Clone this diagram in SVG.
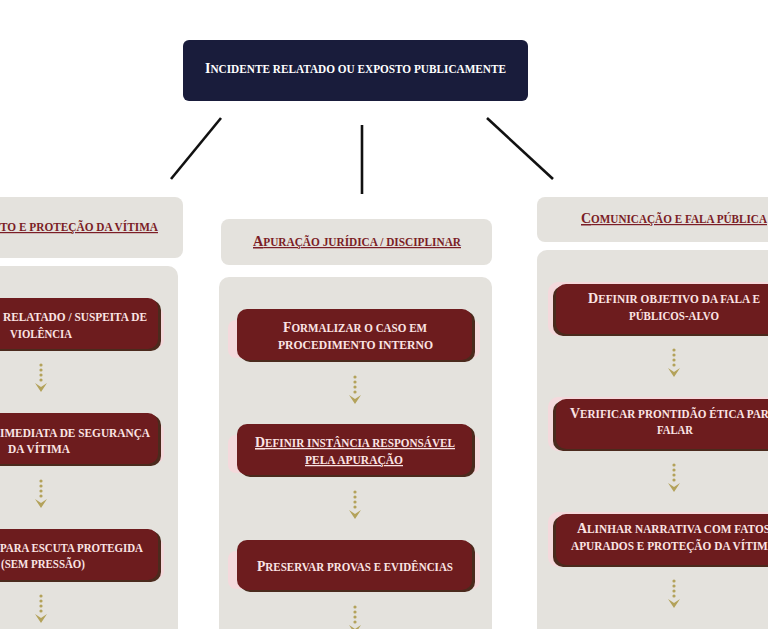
<svg xmlns="http://www.w3.org/2000/svg" width="768" height="629" viewBox="0 0 768 629">
<defs>
<style>
.t{font-family:"Liberation Serif","DejaVu Serif",serif;font-weight:bold;text-transform:uppercase;font-size:12.5px;}
.c{font-size:15.5px;}
.top{fill:#ffffff;}
.hd{fill:#7b1d26;text-decoration:underline;font-size:12px;}
.hd .c{font-size:15px;}
.bx{fill:#fbe4e4;}
.ul{text-decoration:underline;}
.col{fill:#e4e2dd;}
.glow{fill:#f4d9dc;}
.edge{fill:#4b2a1d;}
.box{fill:#6d1c1e;}
.dot{fill:none;stroke:#b3a25a;stroke-width:3.2;stroke-linecap:round;stroke-dasharray:0 5;}
.ln{stroke:#111111;stroke-width:2.6;fill:none;}
</style>
<marker id="chev" viewBox="0 0 9 12" refX="0" refY="6" markerWidth="9" markerHeight="12" markerUnits="userSpaceOnUse" orient="auto">
<path d="M0,0 L4,6 L0,12 L9,6 Z" fill="#b3a25a"/>
</marker>
</defs>
<rect width="768" height="629" fill="#ffffff"/>

<g id="top-node">
<rect x="183" y="40" width="345" height="61" rx="6" fill="#191c3b"/>
<text class="t top" x="355.5" y="73" text-anchor="middle" textLength="301" lengthAdjust="spacingAndGlyphs"><tspan class="c">I</tspan>ncidente relatado ou exposto publicamente</text>
</g>

<g id="col-left">
<rect class="col" x="-20" y="197" width="203" height="61" rx="8"/>
<text class="t hd" x="158" y="231" text-anchor="end" textLength="158" lengthAdjust="spacingAndGlyphs">to e proteção da vítima</text>
<rect class="col" x="-20" y="266" width="198" height="380" rx="10"/>
</g>
<g id="left-1">
<rect class="glow" x="-60" y="308" width="224" height="40" rx="8"/>
<rect class="edge" x="-74" y="300" width="235" height="51" rx="10"/>
<rect class="box" x="-77" y="298" width="235" height="51" rx="10"/>
<text class="t bx" x="147" y="321" text-anchor="end" textLength="144" lengthAdjust="spacingAndGlyphs">relatado / suspeita de</text>
<text class="t bx" x="41" y="338" text-anchor="middle" textLength="62" lengthAdjust="spacingAndGlyphs">violência</text>
</g>
<g id="left-2">
<rect class="glow" x="-60" y="423" width="224" height="40" rx="8"/>
<rect class="edge" x="-74" y="415" width="235" height="51" rx="10"/>
<rect class="box" x="-77" y="413" width="235" height="51" rx="10"/>
<text class="t bx" x="150" y="437" text-anchor="end" textLength="150" lengthAdjust="spacingAndGlyphs">imediata de segurança</text>
<text class="t bx" x="39" y="453" text-anchor="middle" textLength="62" lengthAdjust="spacingAndGlyphs">da vítima</text>
</g>
<g id="left-3">
<rect class="glow" x="-60" y="539" width="224" height="40" rx="8"/>
<rect class="edge" x="-74" y="531" width="235" height="51" rx="10"/>
<rect class="box" x="-77" y="529" width="235" height="51" rx="10"/>
<text class="t bx" x="143" y="552" text-anchor="end" textLength="143" lengthAdjust="spacingAndGlyphs">para escuta protegida</text>
<text class="t bx" x="43" y="568" text-anchor="middle" textLength="84" lengthAdjust="spacingAndGlyphs">(sem pressão)</text>
</g>

<g id="col-center">
<rect class="col" x="221" y="219" width="271" height="46" rx="8"/>
<text class="t hd" x="357" y="246" text-anchor="middle" textLength="208" lengthAdjust="spacingAndGlyphs"><tspan class="c">A</tspan>puração jurídica / disciplinar</text>
<rect class="col" x="219" y="277" width="273" height="370" rx="10"/>
</g>
<g id="center-1">
<rect class="glow" x="228" y="320" width="252" height="38" rx="8"/>
<rect class="edge" x="240" y="311" width="235" height="51" rx="10"/>
<rect class="box" x="237" y="309" width="235" height="51" rx="10"/>
<text class="t bx" x="355" y="332" text-anchor="middle" textLength="144" lengthAdjust="spacingAndGlyphs"><tspan class="c">F</tspan>ormalizar o caso em</text>
<text class="t bx" x="355.5" y="349" text-anchor="middle" textLength="155" lengthAdjust="spacingAndGlyphs">procedimento interno</text>
</g>
<g id="center-2">
<rect class="glow" x="228" y="435" width="252" height="38" rx="8"/>
<rect class="edge" x="240" y="426" width="235" height="51" rx="10"/>
<rect class="box" x="237" y="424" width="235" height="51" rx="10"/>
<text class="t bx ul" x="355" y="447" text-anchor="middle" textLength="200" lengthAdjust="spacingAndGlyphs"><tspan class="c">D</tspan>efinir instância responsável</text>
<text class="t bx ul" x="354" y="464" text-anchor="middle" textLength="98" lengthAdjust="spacingAndGlyphs">pela apuração</text>
</g>
<g id="center-3">
<rect class="glow" x="228" y="551" width="252" height="38" rx="8"/>
<rect class="edge" x="240" y="542" width="235" height="50" rx="10"/>
<rect class="box" x="237" y="540" width="235" height="50" rx="10"/>
<text class="t bx" x="355" y="571" text-anchor="middle" textLength="196" lengthAdjust="spacingAndGlyphs"><tspan class="c">P</tspan>reservar provas e evidências</text>
</g>

<g id="col-right">
<rect class="col" x="537" y="197" width="250" height="45" rx="8"/>
<text class="t hd" x="674" y="223" text-anchor="middle" textLength="186" lengthAdjust="spacingAndGlyphs"><tspan class="c">C</tspan>omunicação e fala pública</text>
<rect class="col" x="537" y="250" width="250" height="400" rx="10"/>
</g>
<g id="right-1">
<rect class="glow" x="548" y="282" width="240" height="54" rx="10"/>
<rect class="edge" x="553" y="286" width="235" height="50" rx="10"/>
<rect class="box" x="556" y="284" width="235" height="50" rx="10"/>
<text class="t bx" x="674" y="303" text-anchor="middle" textLength="172" lengthAdjust="spacingAndGlyphs"><tspan class="c">D</tspan>efinir objetivo da fala e</text>
<text class="t bx" x="674" y="320" text-anchor="middle" textLength="90" lengthAdjust="spacingAndGlyphs">públicos-alvo</text>
</g>
<g id="right-2">
<rect class="glow" x="548" y="397" width="240" height="54" rx="10"/>
<rect class="edge" x="553" y="401" width="235" height="50" rx="10"/>
<rect class="box" x="556" y="399" width="235" height="50" rx="10"/>
<text class="t bx" x="673.5" y="418" text-anchor="middle" textLength="207" lengthAdjust="spacingAndGlyphs"><tspan class="c">V</tspan>erificar prontidão ética para</text>
<text class="t bx" x="675" y="434" text-anchor="middle" textLength="36" lengthAdjust="spacingAndGlyphs">falar</text>
</g>
<g id="right-3">
<rect class="glow" x="548" y="512" width="240" height="55" rx="10"/>
<rect class="edge" x="553" y="516" width="235" height="51" rx="10"/>
<rect class="box" x="556" y="514" width="235" height="51" rx="10"/>
<text class="t bx" x="673.5" y="533" text-anchor="middle" textLength="193" lengthAdjust="spacingAndGlyphs"><tspan class="c">A</tspan>linhar narrativa com fatos</text>
<text class="t bx" x="673.5" y="550" text-anchor="middle" textLength="205" lengthAdjust="spacingAndGlyphs">apurados e proteção da vítima</text>
</g>

<g id="connectors">
<line class="ln" x1="221" y1="118" x2="171" y2="179"/>
<line class="ln" x1="362" y1="125" x2="362" y2="194"/>
<line class="ln" x1="487" y1="118" x2="553" y2="179"/>
<path class="dot" d="M41,365 L41,383" marker-end="url(#chev)"/>
<path class="dot" d="M41,481 L41,499" marker-end="url(#chev)"/>
<path class="dot" d="M41,596 L41,614" marker-end="url(#chev)"/>
<path class="dot" d="M355,377 L355,395" marker-end="url(#chev)"/>
<path class="dot" d="M355,492 L355,510" marker-end="url(#chev)"/>
<path class="dot" d="M355,607 L355,625" marker-end="url(#chev)"/>
<path class="dot" d="M674,350 L674,368" marker-end="url(#chev)"/>
<path class="dot" d="M674,465 L674,483" marker-end="url(#chev)"/>
<path class="dot" d="M674,581 L674,599" marker-end="url(#chev)"/>
</g>
</svg>
